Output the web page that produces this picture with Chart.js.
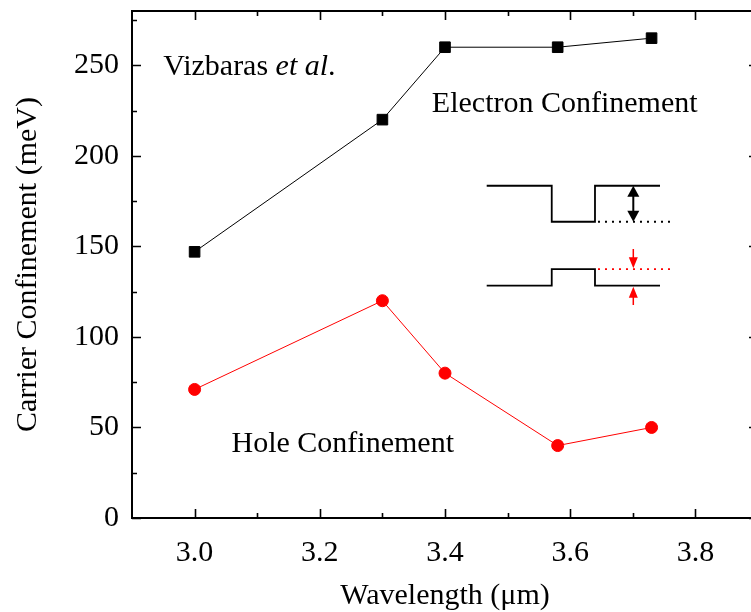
<!DOCTYPE html>
<html>
<head>
<meta charset="utf-8">
<script src="https://cdn.jsdelivr.net/npm/chart.js@4"></script>
<style>
  html, body { margin: 0; padding: 0; background: #fff; overflow: hidden; }
  #wrap { width: 770px; height: 612px; position: relative; }
</style>
</head>
<body>
<div id="wrap"><canvas id="confinementChart"></canvas></div>
<script>
// confinement energies vs emission wavelength
const wavelengths = [3.0, 3.3, 3.4, 3.58, 3.73];
const electronConfinement = [147, 220, 260, 260, 265];
const holeConfinement = [71, 120, 80, 40, 50];

const xTickValues = [3.0, 3.2, 3.4, 3.6, 3.8];
const yTickValues = [0, 50, 100, 150, 200, 250];
const xMinorTicks = [3.1, 3.3, 3.5, 3.7];
const yMinorTicks = [25, 75, 125, 175, 225, 275];

const SERIF = "'Liberation Serif', 'Times New Roman', serif";
const FONT_SIZE = 30;

function toPoints(xs, ys) {
    return xs.map((x, i) => ({ x: x, y: ys[i] }));
}

// box frame with inward ticks on all four sides
const framePlugin = {
    id: 'frame',
    afterDraw(chart) {
        const { ctx, chartArea: a, scales } = chart;
        const xs = scales.x, ys = scales.y;
        ctx.save();
        ctx.strokeStyle = '#000';
        ctx.lineWidth = 2;
        ctx.strokeRect(a.left, a.top, a.right - a.left, a.bottom - a.top);

        const major = 9, minor = 5;
        ctx.beginPath();
        const xTick = (v, len) => {
            const p = Math.round(xs.getPixelForValue(v)) + 0.5;
            ctx.moveTo(p, a.bottom); ctx.lineTo(p, a.bottom - len);
            ctx.moveTo(p, a.top); ctx.lineTo(p, a.top + len);
        };
        const yTick = (v, len) => {
            const p = Math.round(ys.getPixelForValue(v)) + 0.5;
            ctx.moveTo(a.left, p); ctx.lineTo(a.left + len, p);
            ctx.moveTo(a.right, p); ctx.lineTo(a.right - len, p);
        };
        xTickValues.forEach(v => xTick(v, major));
        xMinorTicks.forEach(v => xTick(v, minor));
        yTickValues.forEach(v => yTick(v, major));
        yMinorTicks.forEach(v => yTick(v, minor));
        ctx.lineWidth = 1.6;
        ctx.stroke();
        ctx.restore();
    }
};

function arrowHead(ctx, x, y, dir, len, half) {
    // dir = 1 points down, -1 points up
    ctx.beginPath();
    ctx.moveTo(x, y);
    ctx.lineTo(x - half, y - dir * len);
    ctx.lineTo(x + half, y - dir * len);
    ctx.closePath();
    ctx.fill();
}

// text labels and the band-edge sketch
const notesPlugin = {
    id: 'notes',
    afterDatasetsDraw(chart) {
        const { ctx } = chart;
        const px = v => chart.scales.x.getPixelForValue(v);
        const py = v => chart.scales.y.getPixelForValue(v);
        ctx.save();
        ctx.fillStyle = '#000';
        ctx.textBaseline = 'alphabetic';
        ctx.textAlign = 'left';

        const regular = FONT_SIZE + 'px ' + SERIF;
        const italic = 'italic ' + FONT_SIZE + 'px ' + SERIF;
        ctx.font = regular;
        const vx = px(2.95), vy = py(244.8);
        ctx.fillText('Vizbaras ', vx, vy);
        const w = ctx.measureText('Vizbaras ').width;
        ctx.font = italic;
        ctx.fillText('et al', vx + w, vy);
        const w2 = ctx.measureText('et al').width;
        ctx.font = regular;
        ctx.fillText('.', vx + w + w2, vy);

        ctx.fillText('Electron Confinement', px(3.379), py(224.4));
        ctx.fillText('Hole Confinement', px(3.059), py(36.6));

        // conduction and valence band edges
        const xa = px(3.4666), xb = px(3.5705), xc = px(3.6396), xd = px(3.7435), xe = px(3.7622);
        const xArrow = px(3.7008);
        const cbTop = py(183.5), cbWell = py(163.6);
        const vbBase = py(128.3), vbWell = py(137.4);

        ctx.strokeStyle = '#000';
        ctx.lineWidth = 1.8;
        ctx.beginPath();
        ctx.moveTo(xa, cbTop); ctx.lineTo(xb, cbTop); ctx.lineTo(xb, cbWell);
        ctx.lineTo(xc, cbWell); ctx.lineTo(xc, cbTop); ctx.lineTo(xd, cbTop);
        ctx.stroke();

        ctx.beginPath();
        ctx.moveTo(xa, vbBase); ctx.lineTo(xb, vbBase); ctx.lineTo(xb, vbWell);
        ctx.lineTo(xc, vbWell); ctx.lineTo(xc, vbBase); ctx.lineTo(xd, vbBase);
        ctx.stroke();

        ctx.setLineDash([2, 5]);
        ctx.beginPath();
        ctx.moveTo(xc + 3, cbWell); ctx.lineTo(xe, cbWell);
        ctx.stroke();
        ctx.strokeStyle = '#ff0000';
        ctx.beginPath();
        ctx.moveTo(xc + 3, vbWell); ctx.lineTo(xe, vbWell);
        ctx.stroke();
        ctx.setLineDash([]);

        // electron barrier arrow
        ctx.strokeStyle = '#000';
        ctx.fillStyle = '#000';
        ctx.lineWidth = 2;
        ctx.beginPath();
        ctx.moveTo(xArrow, cbTop + 9); ctx.lineTo(xArrow, cbWell - 9);
        ctx.stroke();
        arrowHead(ctx, xArrow, cbTop, -1, 11, 6);
        arrowHead(ctx, xArrow, cbWell, 1, 11, 6);

        // hole barrier arrows
        ctx.strokeStyle = '#ff0000';
        ctx.fillStyle = '#ff0000';
        ctx.lineWidth = 1.5;
        const topStart = py(148.6), botStart = py(117.6);
        ctx.beginPath();
        ctx.moveTo(xArrow, topStart); ctx.lineTo(xArrow, vbWell - 9);
        ctx.moveTo(xArrow, botStart); ctx.lineTo(xArrow, vbBase + 9);
        ctx.stroke();
        arrowHead(ctx, xArrow, vbWell - 1, 1, 11, 4.5);
        arrowHead(ctx, xArrow, vbBase + 1, -1, 11, 4.5);

        ctx.restore();
    }
};

new Chart(document.getElementById('confinementChart'), {
    type: 'line',
    data: {
        datasets: [
            {
                label: 'Electron Confinement',
                data: toPoints(wavelengths, electronConfinement),
                borderColor: '#000',
                backgroundColor: '#000',
                borderWidth: 1,
                pointStyle: 'rect',
                pointRadius: 7.5,
                pointBorderWidth: 1,
                tension: 0
            },
            {
                label: 'Hole Confinement',
                data: toPoints(wavelengths, holeConfinement),
                borderColor: '#ff0000',
                backgroundColor: '#ff0000',
                borderWidth: 1,
                pointStyle: 'circle',
                pointRadius: 6,
                pointBorderWidth: 1,
                tension: 0
            }
        ]
    },
    options: {
        responsive: true,
        maintainAspectRatio: false,
        animation: false,
        layout: { padding: { left: 0, right: 12, top: 11, bottom: 0 } },
        plugins: {
            legend: { display: false },
            tooltip: { enabled: false }
        },
        scales: {
            x: {
                type: 'linear',
                min: 2.9,
                max: 3.9,
                afterBuildTicks: s => { s.ticks = xTickValues.map(v => ({ value: v })); },
                afterFit: s => { s.height = 94; s.paddingLeft = 0; s.paddingRight = 0; },
                grid: { display: false, drawTicks: false },
                border: { display: false },
                ticks: {
                    padding: 17,
                    color: '#000',
                    font: { family: SERIF, size: FONT_SIZE },
                    callback: v => Number(v).toFixed(1)
                },
                title: {
                    display: true,
                    text: 'Wavelength (μm)',
                    color: '#000',
                    font: { family: SERIF, size: FONT_SIZE },
                    padding: { top: 0, bottom: -2 }
                }
            },
            y: {
                min: 0,
                max: 280,
                afterBuildTicks: s => { s.ticks = yTickValues.map(v => ({ value: v })); },
                afterFit: s => { s.width = 132; s.paddingTop = 0; s.paddingBottom = 0; },
                grid: { display: false, drawTicks: false },
                border: { display: false },
                ticks: {
                    padding: 13,
                    color: '#000',
                    font: { family: SERIF, size: FONT_SIZE }
                },
                title: {
                    display: true,
                    text: 'Carrier Confinement (meV)',
                    color: '#000',
                    font: { family: SERIF, size: FONT_SIZE },
                    padding: { top: 10, bottom: 0 }
                }
            }
        }
    },
    plugins: [framePlugin, notesPlugin]
});
</script>
</body>
</html>
